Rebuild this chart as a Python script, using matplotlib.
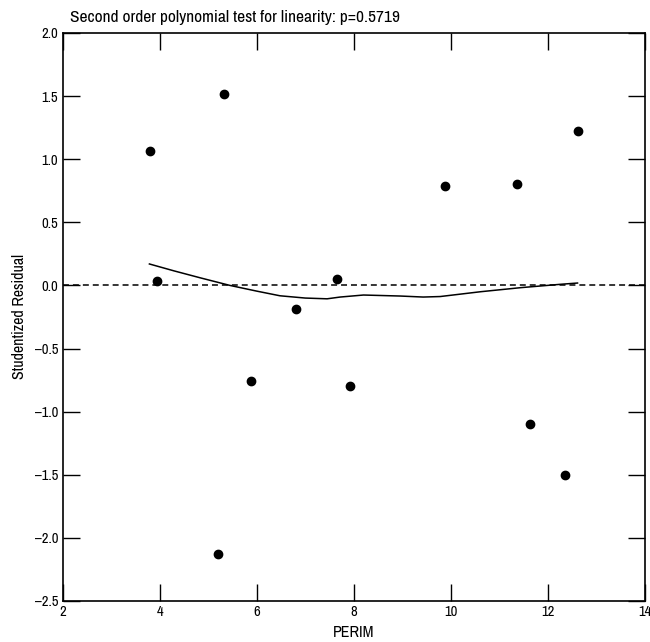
import matplotlib
matplotlib.use("Agg")
import matplotlib.pyplot as plt
from matplotlib import font_manager

# pick a condensed sans if one is installed
names = sorted({f.name for f in font_manager.fontManager.ttflist})
narrow = [n for n in names if "Narrow" in n or "Condensed" in n]
family = narrow[0] if narrow else "Liberation Sans"
plt.rcParams["font.family"] = [family, "DejaVu Sans"]
scale = 1.0 if narrow else 0.88

# residuals vs PERIM
perim = [3.80, 3.94, 5.32, 5.20, 5.89, 6.81, 7.66, 7.93, 9.88, 11.37, 11.63, 12.35, 12.61]
resid = [1.065, 0.032, 1.514, -2.126, -0.76, -0.187, 0.051, -0.795, 0.79, 0.80, -1.10, -1.50, 1.223]

# smooth line through residuals
smooth_x = [3.79, 4.30, 4.84, 5.45, 6.00, 6.48, 7.00, 7.45, 7.72, 8.20, 8.96, 9.43, 9.78,
            10.61, 11.43, 12.26, 12.61]
smooth_y = [0.170, 0.115, 0.060, 0.0, -0.045, -0.082, -0.100, -0.106, -0.092, -0.076,
            -0.084, -0.092, -0.088, -0.050, -0.018, 0.009, 0.019]

xticks = [2, 4, 6, 8, 10, 12, 14]
yticks = [-2.5, -2.0, -1.5, -1.0, -0.5, 0.0, 0.5, 1.0, 1.5, 2.0]

fig = plt.figure(figsize=(6.5, 6.42), dpi=100)
ax = fig.add_axes([0.0962, 0.0639, 0.8961, 0.8847])

ax.axhline(0, color="black", lw=1.1, ls=(0, (3.9, 2.6)), zorder=1)
ax.plot(smooth_x, smooth_y, color="black", lw=1.1, zorder=2)
ax.scatter(perim, resid, s=36, color="black", zorder=3)

ax.set_xlim(2, 14)
ax.set_ylim(-2.5, 2.0)
ax.set_xticks(xticks)
ax.set_xticklabels([str(t) for t in xticks])
ax.set_yticks(yticks)
ax.set_yticklabels([f"{t:.1f}".replace("-", "\u2013") for t in yticks])

ax.tick_params(direction="in", length=12, width=1, top=True, right=True,
               labelsize=10.5 * scale, pad=3)
for s in ax.spines.values():
    s.set_linewidth(1.2)

ax.set_xlabel("PERIM", fontsize=11.5 * scale, va="top")
ax.xaxis.set_label_coords(0.5, -0.043)
ax.set_ylabel("Studentized Residual", fontsize=11.5 * scale)
ax.yaxis.set_label_coords(-0.061, 0.5)

fig.text(70 / 650, 1 - 22 / 642, "Second order polynomial test for linearity: p=0.5719",
         fontsize=12.5 * scale, ha="left", va="baseline")

fig.savefig("out.png", dpi=100)
